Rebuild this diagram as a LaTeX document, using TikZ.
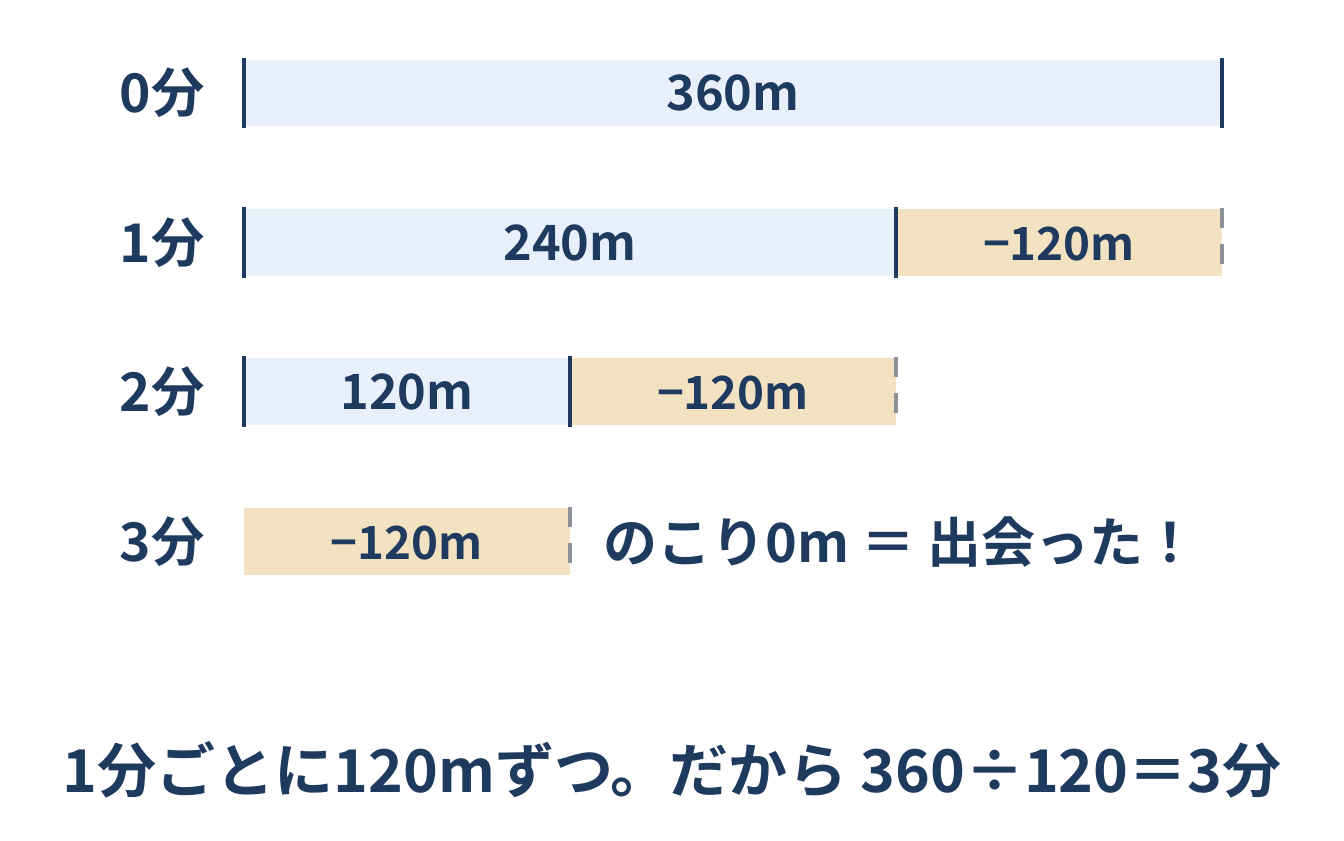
\documentclass[tikz,border=0pt]{standalone}
\usepackage{fontspec}
\setmainfont{Noto Sans CJK JP}[BoldFont=* Bold]
\definecolor{navy}{HTML}{1F3A5F}
\definecolor{barblue}{HTML}{E8F0FC}
\definecolor{bartan}{HTML}{F3E2C2}
\definecolor{dashgrey}{HTML}{8C9199}
\tikzset{
  px/.style={x=0.75pt,y=-0.75pt},
  bluebar/.style={fill=barblue,draw=none},
  tanbar/.style={fill=bartan,draw=none},
  tick/.style={draw=navy,line width=3pt},
  dashtick/.style={draw=dashgrey,line width=3.4pt,dash pattern=on 15pt off 12pt},
  rowlabel/.style={anchor=east,text=navy,font=\bfseries\fontsize{40}{44}\selectfont,inner sep=0pt},
  barlabel/.style={text=navy,font=\bfseries\fontsize{36.5}{40}\selectfont,inner sep=0pt},
  tanlabel/.style={text=navy,font=\bfseries\fontsize{34.3}{38}\selectfont,inner sep=0pt},
  note/.style={text=navy,font=\bfseries\fontsize{40.5}{44}\selectfont,inner sep=0pt},
  summary/.style={text=navy,font=\bfseries\fontsize{44.3}{48}\selectfont,inner sep=0pt}
}
\begin{document}
\begin{tikzpicture}[px]
\useasboundingbox[fill=white] (0,0) rectangle (1344,841);
% row 0
\fill[bluebar] (244,60) rectangle (1222,126);
\coordinate (r0a) at (244,58); \coordinate (r0b) at (244,128);
\coordinate (r0c) at (1222,58); \coordinate (r0d) at (1222,128);
\draw[tick] (r0a) -- (r0b);
\draw[tick] (r0c) -- (r0d);
\node[barlabel] (t0) at (733,93) {360m};
\node[rowlabel] (l0) at (205,93) {0分};
% row 1
\fill[bluebar] (244,209) rectangle (896,276);
\fill[tanbar] (896,209) rectangle (1222,276);
\coordinate (r1a) at (244,207); \coordinate (r1b) at (244,278);
\coordinate (r1c) at (896,207); \coordinate (r1d) at (896,278);
\coordinate (r1e) at (1222,208); \coordinate (r1f) at (1222,276);
\draw[tick] (r1a) -- (r1b);
\draw[tick] (r1c) -- (r1d);
\draw[dashtick] (r1e) -- (r1f);
\node[barlabel] (t1a) at (570,243) {240m};
\node[tanlabel] (t1b) at (1059,244) {−120m};
\node[rowlabel] (l1) at (205,243) {1分};
% row 2
\fill[bluebar] (244,358) rectangle (570,425);
\fill[tanbar] (570,358) rectangle (896,425);
\coordinate (r2a) at (244,356); \coordinate (r2b) at (244,427);
\coordinate (r2c) at (570,356); \coordinate (r2d) at (570,427);
\coordinate (r2e) at (896,357); \coordinate (r2f) at (896,425);
\draw[tick] (r2a) -- (r2b);
\draw[tick] (r2c) -- (r2d);
\draw[dashtick] (r2e) -- (r2f);
\node[barlabel] (t2a) at (407,392) {120m};
\node[tanlabel] (t2b) at (733,393) {−120m};
\node[rowlabel] (l2) at (205,392) {2分};
% row 3
\fill[tanbar] (244,508) rectangle (570,575);
\coordinate (r3e) at (570,507); \coordinate (r3f) at (570,575);
\draw[dashtick] (r3e) -- (r3f);
\node[tanlabel] (t3) at (407,543) {−120m};
\node[rowlabel] (l3) at (205,542) {3分};
\node[note,anchor=west] (n3) at (603,542) {のこり0m ＝ 出会った！};
% summary
\node[summary] (s) at (672,770) {1分ごとに120mずつ。だから 360÷120＝3分};
\end{tikzpicture}
\end{document}
